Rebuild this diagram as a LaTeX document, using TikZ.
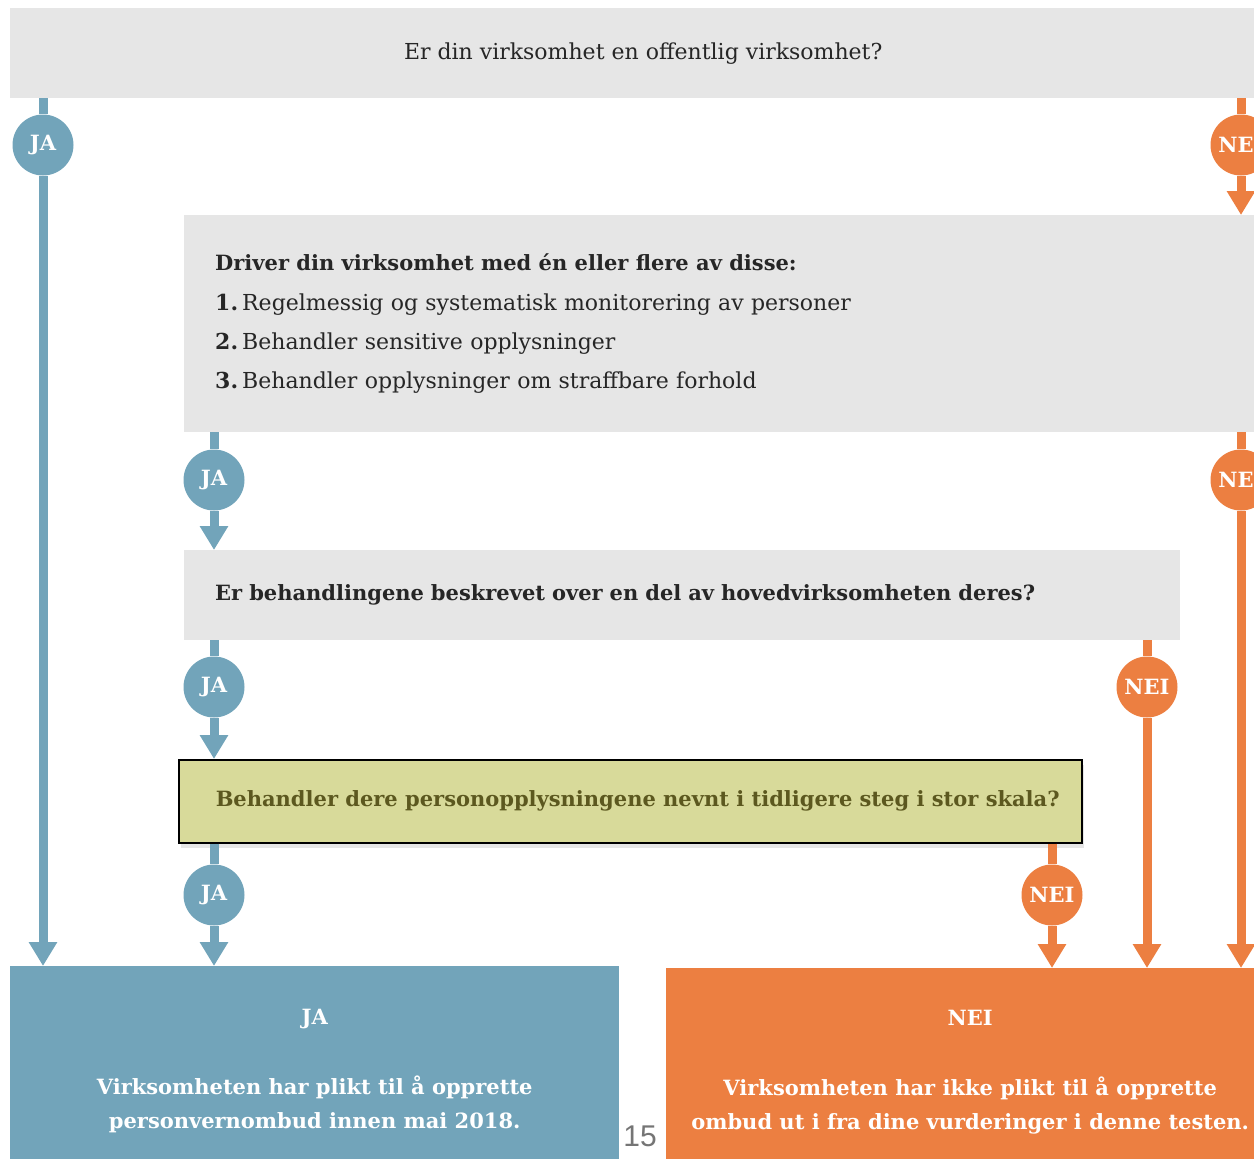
\documentclass[tikz,border=0pt]{standalone}
\usepackage{fontspec}
\setmainfont{DejaVu Serif}
\newfontfamily\pagefont{Liberation Sans}
\usetikzlibrary{arrows.meta,shadows}
\definecolor{jablue}{HTML}{72A4BA}
\definecolor{neiorange}{HTML}{EC7F41}
\definecolor{qgray}{HTML}{E6E6E6}
\definecolor{qtext}{HTML}{262626}
\definecolor{scalebox}{HTML}{D8DA9A}
\definecolor{scaletext}{HTML}{5C581F}
\definecolor{pagegray}{HTML}{757575}

\begin{document}
\begin{tikzpicture}[x=1pt, y=-1pt,
  qbox/.style = {fill=qgray, text=qtext, inner sep=0pt, anchor=north west,
    font=\fontsize{22}{39.3}\selectfont},
  bigbold/.style = {font=\bfseries\fontsize{21}{39}\selectfont},
  result/.style = {text=white, inner sep=0pt, anchor=north west, align=center,
    font=\bfseries\fontsize{21}{34}\selectfont},
  dot/.style = {circle, minimum size=61pt, inner sep=0pt, text=white,
    font=\bfseries\fontsize{21}{21}\selectfont},
  jadot/.style = {dot, fill=jablue},
  neidot/.style = {dot, fill=neiorange},
  jaline/.style = {draw=jablue, line width=9pt},
  neiline/.style = {draw=neiorange, line width=9pt},
  arrowed/.style = {-{Triangle[width=27pt,length=24pt]}}]
\clip (0,0) rectangle (1254,1159);

% questions
\node[qbox, minimum width=1266, minimum height=90] (1) at (10,8)
  {Er din virksomhet en offentlig virksomhet?};
\node[qbox, minimum width=1100, minimum height=217, text width=1038, align=left] (2) at (184,215)
  {{\bfseries\fontsize{21}{39}\selectfont Driver din virksomhet med én eller flere av disse:}\\
   \textbf{1.}\hspace{4pt}Regelmessig og systematisk monitorering av personer\\
   \textbf{2.}\hspace{4pt}Behandler sensitive opplysninger\\
   \textbf{3.}\hspace{4pt}Behandler opplysninger om straffbare forhold\\[-4pt]};
\node[qbox, bigbold, minimum width=996, minimum height=90, text width=934, align=left] (3) at (184,550)
  {Er behandlingene beskrevet over en del av hovedvirksomheten deres?};
\node[qbox, bigbold, fill=scalebox, text=scaletext, draw=black, line width=1.5pt,
  drop shadow={opacity=0.2, shadow xshift=2pt, shadow yshift=-5pt},
  minimum width=903, minimum height=83] (4) at (178,759)
  {\makebox[829pt][l]{Behandler dere personopplysningene nevnt i tidligere steg i stor skala?}};

% answers
\node[result, fill=jablue, minimum width=609, minimum height=210] (5) at (10,966)
  {JA\\[36pt]Virksomheten har plikt til å opprette\\personvernombud innen mai 2018.};
\node[result, fill=neiorange, minimum width=608, minimum height=208] (6) at (666,968)
  {NEI\\[36pt]Virksomheten har ikke plikt til å opprette\\ombud ut i fra dine vurderinger i denne testen.};

\node[text=pagegray, font=\pagefont\fontsize{30}{30}\selectfont] (pg) at (640,1136) {15};

% circles
\node[jadot] (j1) at (43,145) {JA};
\node[jadot] (j2) at (214,480) {JA};
\node[jadot] (j3) at (214,687) {JA};
\node[jadot] (j4) at (214,895) {JA};
\node[neidot] (n1) at (1241,145) {NEI};
\node[neidot] (n2) at (1241,480) {NEI};
\node[neidot] (n3) at (1147,687) {NEI};
\node[neidot] (n4) at (1052,895) {NEI};

% connectors
\draw[jaline] (1.south -| j1) -- (j1);
\draw[jaline, arrowed] (j1) -- (5.north -| j1);
\draw[jaline] (2.south -| j2) -- (j2);
\draw[jaline, arrowed] (j2) -- (3.north -| j2);
\draw[jaline] (3.south -| j3) -- (j3);
\draw[jaline, arrowed] (j3) -- (4.north -| j3);
\draw[jaline] (4.south -| j4) -- (j4);
\draw[jaline, arrowed] (j4) -- (5.north -| j4);
\draw[neiline] (1.south -| n1) -- (n1);
\draw[neiline, arrowed] (n1) -- (2.north -| n1);
\draw[neiline] (2.south -| n2) -- (n2);
\draw[neiline, arrowed] (n2) -- (6.north -| n2);
\draw[neiline] (3.south -| n3) -- (n3);
\draw[neiline, arrowed] (n3) -- (6.north -| n3);
\draw[neiline] (4.south -| n4) -- (n4);
\draw[neiline, arrowed] (n4) -- (6.north -| n4);
\end{tikzpicture}
\end{document}
